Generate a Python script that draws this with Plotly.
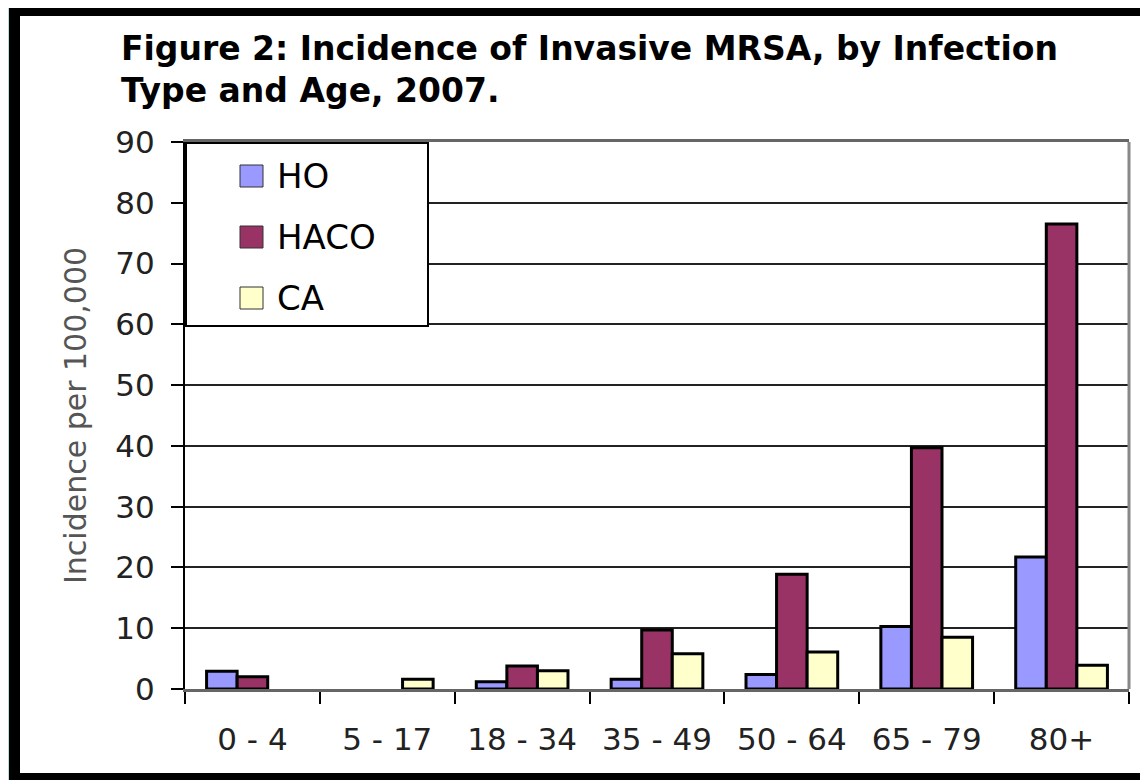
import plotly.graph_objects as go

categories = ["0 - 4", "5 - 17", "18 - 34", "35 - 49", "50 - 64", "65 - 79", "80+"]
series_names = ["HO", "HACO", "CA"]
ho = [2.9, 0, 1.2, 1.6, 2.4, 10.3, 21.7]
haco = [2.0, 0, 3.8, 9.7, 18.9, 39.7, 76.5]
ca = [0, 1.6, 3.0, 5.8, 6.1, 8.5, 3.9]
colors = ["#9999FF", "#993366", "#FFFFCC"]
y_ticks = [0, 10, 20, 30, 40, 50, 60, 70, 80, 90]
title_lines = ["Figure 2: Incidence of Invasive MRSA, by Infection", "Type and Age, 2007."]

# page offset of the figure (browser body margin)
OX, OY = 8, 8
W, H = 1140, 772
L, R, T, B = 177, 19, 134, 91
pw, ph = W - L - R, H - T - B


def px(x_page):
    return (x_page - OX - L) / pw


def py(y_page):
    return (T + ph - (y_page - OY)) / ph


FONT = "DejaVu Sans, Verdana, sans-serif"

fig = go.Figure()
for name, vals, col in zip(series_names, [ho, haco, ca], colors):
    fig.add_trace(go.Bar(
        x=categories, y=vals, name=name,
        marker=dict(color=col, line=dict(color="black", width=[3 if v > 0 else 0 for v in vals])),
        showlegend=False))

shapes = [
    dict(type="rect", xref="paper", yref="paper", x0=px(9), x1=px(1190), y0=py(820), y1=py(5),
         fillcolor="black", line=dict(width=0), layer="below"),
    dict(type="rect", xref="paper", yref="paper", x0=px(20), x1=px(1190), y0=py(773), y1=py(16),
         fillcolor="white", line=dict(width=0), layer="below"),
    dict(type="line", xref="paper", yref="paper", x0=1, x1=1, y0=0, y1=1,
         line=dict(color="#888888", width=3), layer="above"),
    dict(type="rect", xref="paper", yref="paper", x0=px(186), x1=px(428), y0=py(326), y1=py(143),
         fillcolor="white", line=dict(color="black", width=2), layer="above"),
]
annotations = []
for line, yc in zip(title_lines, [49, 91]):
    annotations.append(dict(text="<b>" + line + "</b>", xref="paper", yref="paper",
                            x=px(119), y=py(yc), xanchor="left", yanchor="middle",
                            showarrow=False, font=dict(family=FONT, size=33, color="black")))
leg_y = [176, 237, 298]
for name, col, yc in zip(series_names, colors, leg_y):
    shapes.append(dict(type="rect", xref="paper", yref="paper", x0=px(240), x1=px(263),
                       y0=py(yc + 11), y1=py(yc - 11), fillcolor=col,
                       line=dict(color="#333333", width=1), layer="above"))
    annotations.append(dict(text=name, xref="paper", yref="paper", x=px(275), y=py(yc),
                            xanchor="left", yanchor="middle", showarrow=False,
                            font=dict(family=FONT, size=34, color="black")))

fig.update_layout(
    width=W, height=H,
    margin=dict(l=L, r=R, t=T, b=B),
    paper_bgcolor="#b8dee3",
    plot_bgcolor="rgba(0,0,0,0)",
    barmode="group", bargap=0.32, bargroupgap=0,
    shapes=shapes,
    annotations=annotations,
    showlegend=False,
)
fig.update_xaxes(
    showline=True, linecolor="#666666", linewidth=3, mirror=True,
    ticks="outside", tickson="boundaries", ticklen=12, tickwidth=2, tickcolor="black",
    tickfont=dict(family=FONT, size=31, color="#222222"),
    ticklabelstandoff=21, showgrid=False,
)
fig.update_yaxes(
    range=[0, 90], tickvals=y_ticks,
    showline=True, linecolor="black", linewidth=2,
    ticks="outside", ticklen=12, tickwidth=2, tickcolor="black",
    tickfont=dict(family=FONT, size=31, color="#222222"),
    ticklabelstandoff=10,
    showgrid=True, gridcolor="#222222", gridwidth=2, zeroline=False,
    title=dict(text="Incidence per 100,000", standoff=20,
               font=dict(family=FONT, size=30, color="#555555")),
)
fig.write_html("out.html")
